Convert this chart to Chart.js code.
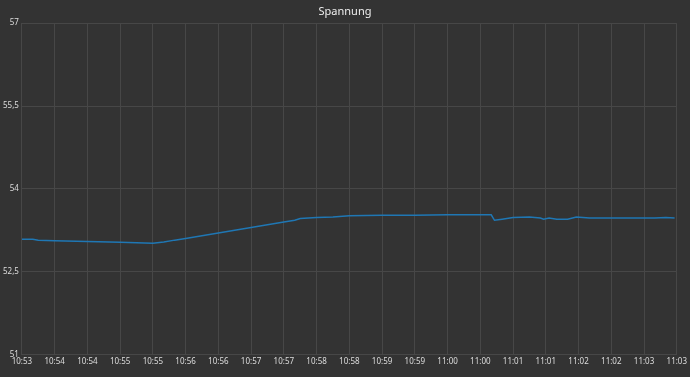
<!DOCTYPE html>
<html>
<head>
<meta charset="utf-8">
<script src="https://cdn.jsdelivr.net/npm/chart.js@4/dist/chart.umd.min.js"></script>
<style>
  html, body { margin: 0; padding: 0; background: #333333; }
  #wrap { width: 690px; height: 377px; }
</style>
</head>
<body>
<div id="wrap"><canvas id="myChart"></canvas></div>
<script>
// seconds after 10:53:30
const seconds = [0, 10, 15, 30, 60, 90, 120, 130, 140, 150, 165, 180, 195, 210, 225, 240, 250, 255, 270, 285, 300, 330, 360, 390, 420, 430, 433, 440, 450, 465, 475, 478, 483, 490, 500, 508, 520, 540, 560, 580, 590, 598];
const spannung = [53.085, 53.085, 53.07, 53.06, 53.045, 53.03, 53.015, 53.035, 53.07, 53.1, 53.15, 53.2, 53.25, 53.3, 53.35, 53.4, 53.43, 53.46, 53.48, 53.49, 53.51, 53.52, 53.52, 53.53, 53.53, 53.53, 53.43, 53.45, 53.48, 53.49, 53.47, 53.45, 53.47, 53.45, 53.45, 53.49, 53.47, 53.47, 53.47, 53.47, 53.48, 53.47];
const yTicks = [51, 52.5, 54, 55.5, 57];
const startHour = 10, startMin = 53, startSec = 30;

function timeLabel(s) {
  const total = startHour * 3600 + startMin * 60 + startSec + s;
  const h = Math.floor(total / 3600);
  const m = Math.floor((total % 3600) / 60);
  return h + ":" + String(m).padStart(2, "0");
}

const points = seconds.map((s, i) => ({ x: s, y: spannung[i] }));

const ctx = document.getElementById("myChart").getContext("2d");

new Chart(ctx, {
  type: "line",
  data: {
    datasets: [
      {
        label: "Spannung",
        data: points,
        borderColor: "#1F77B4",
        borderWidth: 1.5,
        pointRadius: 0,
        tension: 0,
        fill: false,
      },
    ],
  },
  options: {
    responsive: true,
    maintainAspectRatio: false,
    animation: false,
    layout: { padding: { left: 0, right: 0, top: 0, bottom: 7 } },
    scales: {
      x: {
        type: "linear",
        min: 0,
        max: 600,
        afterBuildTicks: (axis) => {
          axis.ticks = [];
          for (let s = 0; s <= 600; s += 30) axis.ticks.push({ value: s });
        },
        ticks: {
          color: "#dddddd",
          font: { size: 8, family: "Noto Sans" },
          maxRotation: 0,
          autoSkip: false,
          padding: 3,
          callback: (value) => timeLabel(value),
        },
        grid: { color: "#474747", drawTicks: false },
        border: { color: "#474747" },
      },
      y: {
        min: 51,
        max: 57,
        afterBuildTicks: (axis) => {
          axis.ticks = yTicks.map((v) => ({ value: v }));
        },
        ticks: {
          color: "#dddddd",
          font: { size: 8, family: "Noto Sans" },
          padding: 3,
          callback: (value) => String(value).replace(".", ","),
        },
        grid: { color: "#474747", drawTicks: false },
        border: { color: "#474747" },
      },
    },
    plugins: {
      legend: { display: false },
      title: {
        display: true,
        text: "Spannung",
        color: "#eeeeee",
        font: { size: 11, weight: "normal", family: "Noto Sans" },
        padding: { top: 5, bottom: 5 },
      },
      tooltip: { enabled: false },
    },
  },
});
</script>
</body>
</html>
